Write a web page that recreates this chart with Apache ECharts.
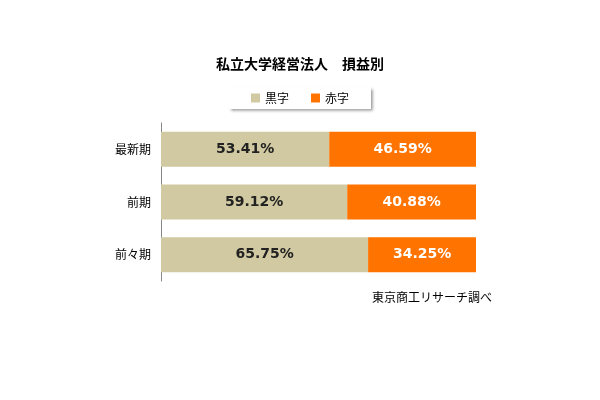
<!DOCTYPE html>
<html><head><meta charset="utf-8">
<script src="https://cdn.jsdelivr.net/npm/echarts@6/dist/echarts.min.js"></script>
<style>html,body{margin:0;background:#fff}#c{width:600px;height:400px}</style>
</head><body><div id="c"></div>
<script>
const categories = ['最新期', '前期', '前々期'];
const kuroji = [53.41, 59.12, 65.75];
const akaji = [46.59, 40.88, 34.25];
const font = '"Noto Sans CJK JP", sans-serif';
const chart = echarts.init(document.getElementById('c'));
chart.setOption({
  animation: false,
  title: { text: '私立大学経営法人　損益別', left: 'center', top: 52,
    textStyle: { fontFamily: font, fontSize: 14, fontWeight: 'bold', color: '#000' } },
  legend: { top: 87, left: 'center', itemWidth: 9, itemHeight: 9, itemGap: 22,
    padding: [5, 22, 5, 22], backgroundColor: '#fff',
    shadowColor: 'rgba(0,0,0,0.45)', shadowBlur: 3, shadowOffsetX: 2, shadowOffsetY: 2,
    textStyle: { fontFamily: font, fontSize: 12, color: '#000' },
    data: [{ name: '黒字', icon: 'rect' }, { name: '赤字', icon: 'rect' }] },
  grid: { left: 161, right: 124, top: 123, bottom: 119 },
  xAxis: { type: 'value', min: 0, max: 100, show: false },
  yAxis: { type: 'category', data: categories, inverse: true,
    axisLine: { lineStyle: { color: '#888' } },
    axisTick: { length: 4, lineStyle: { color: '#888' } },
    axisLabel: { fontFamily: font, fontSize: 12, color: '#000', margin: 10 } },
  series: [
    { name: '黒字', type: 'bar', stack: 's', data: kuroji, barWidth: 35,
      itemStyle: { color: '#D1C9A1' },
      label: { show: true, position: 'inside', formatter: p => p.value.toFixed(2) + '%',
        fontFamily: 'DejaVu Sans', fontSize: 14, fontWeight: 'bold', color: '#222' } },
    { name: '赤字', type: 'bar', stack: 's', data: akaji, barWidth: 35,
      itemStyle: { color: '#FF7300' },
      label: { show: true, position: 'inside', formatter: p => p.value.toFixed(2) + '%',
        fontFamily: 'DejaVu Sans', fontSize: 14, fontWeight: 'bold', color: '#fff' } }
  ],
  graphic: [{ type: 'text', left: 372, top: 291,
    style: { text: '東京商工リサーチ調べ', fontFamily: font, fontSize: 12, fill: '#000' } }]
});
</script></body></html>
